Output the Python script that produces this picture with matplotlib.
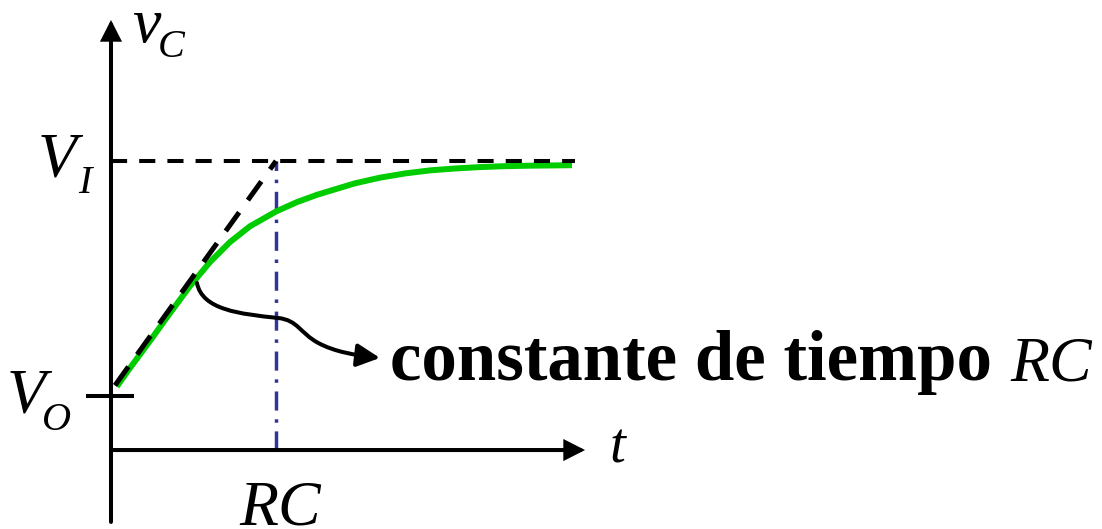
import matplotlib
matplotlib.use("Agg")
import matplotlib.pyplot as plt
from matplotlib.patches import FancyArrowPatch
from matplotlib.path import Path

# Charging curve of the capacitor voltage (time in units of RC,
# voltage normalised so that V_O = 0 and V_I = 1)
t_curve = [0.035, 0.115, 0.236, 0.358, 0.479, 0.600, 0.721, 0.842, 1.000, 1.127,
           1.248, 1.370, 1.479, 1.630, 1.782, 1.933, 2.085, 2.236, 2.388, 2.539, 2.794]
v_curve = [0.040, 0.119, 0.234, 0.353, 0.468, 0.570, 0.655, 0.722, 0.785, 0.825,
           0.856, 0.882, 0.905, 0.929, 0.947, 0.960, 0.968, 0.974, 0.978, 0.980, 0.982]

# Initial tangent to the curve, reaching V_I at t = RC
t_tangent = [0.024, 1.0]
v_tangent = [0.045, 1.0]

# Reference levels
V_O = 0.0
V_I = 1.0
RC = 1.0
t_end_line = 2.81

serif = "Liberation Serif"

fig = plt.figure(figsize=(11.02, 5.29), dpi=100)
ax = fig.add_axes([0, 0, 1, 1])
ax.set_xlim(-0.6727, 6.006)
ax.set_ylim(-0.566, 1.685)
ax.axis("off")

x_axis_v = -0.23
axis_lw = 2.9


def axis_arrow(p0, p1):
    a = FancyArrowPatch(p0, p1, arrowstyle="-|>,head_length=0.55,head_width=0.28",
                        mutation_scale=20, lw=axis_lw, color="black",
                        shrinkA=0, shrinkB=0, joinstyle="miter", zorder=3)
    ax.add_patch(a)


# axes with arrowheads
axis_arrow((0, -0.536), (0, 1.6))
axis_arrow((0, x_axis_v), (2.873, x_axis_v))

# V_O tick
ax.plot([-0.152, 0.139], [V_O, V_O], color="black", lw=axis_lw,
        solid_capstyle="butt", zorder=3)

# V_I dashed level
ax.plot([0, t_end_line], [V_I, V_I], color="black", lw=2.9,
        linestyle=(0, (4, 3)), zorder=4)

# RC marker (dash-dot)
ax.plot([RC, RC], [x_axis_v, V_I], color="#333399", lw=2.5,
        linestyle=(0, (5.5, 2.5, 1, 2.5)), zorder=2)

# the charging curve
ax.plot(t_curve, v_curve, color="#00CC00", lw=4.3, solid_capstyle="butt",
        solid_joinstyle="round", zorder=3)

# tangent at the origin
ax.plot(t_tangent, v_tangent, color="black", lw=3.6, linestyle=(0, (4.6, 3)), zorder=4)

# curved pointer to the label
verts = [(0.521, 0.481), (0.552, 0.366), (0.782, 0.349), (1.012, 0.332),
         (1.133, 0.323), (1.145, 0.268), (1.255, 0.226),
         (1.358, 0.187), (1.479, 0.174), (1.63, 0.162)]
codes = [Path.MOVETO] + [Path.CURVE4] * 9
pointer = FancyArrowPatch(path=Path(verts, codes),
                          arrowstyle="-|>,head_length=0.7,head_width=0.35",
                          mutation_scale=20, lw=2.9, color="black", zorder=5)
ax.add_patch(pointer)

# labels
big = 46
sub = 29
ax.text(0.127, 1.506, "v", fontsize=big, fontfamily=serif, style="italic",
        va="baseline", ha="left")
ax.text(0.285, 1.443, "C", fontsize=sub, fontfamily=serif, style="italic",
        va="baseline", ha="left")
ax.text(-0.445, 0.932, "V", fontsize=big, fontfamily=serif, style="italic",
        va="baseline", ha="left")
ax.text(-0.2, 0.864, "I", fontsize=sub, fontfamily=serif, style="italic",
        va="baseline", ha="left")
ax.text(-0.63, -0.072, "V", fontsize=big, fontfamily=serif, style="italic",
        va="baseline", ha="left")
ax.text(-0.418, -0.145, "O", fontsize=sub, fontfamily=serif, style="italic",
        va="baseline", ha="left")
ax.text(3.02, -0.281, "t", fontsize=41, fontfamily=serif, style="italic",
        va="baseline", ha="left")
ax.text(RC + 0.024, -0.545, "RC", fontsize=46, fontfamily=serif, style="italic",
        va="baseline", ha="center")
ax.text(1.69, 0.068, "constante de tiempo", fontsize=51, fontfamily=serif,
        fontweight="bold", va="baseline", ha="left")
ax.text(5.45, 0.068, "RC", fontsize=46, fontfamily=serif, style="italic",
        va="baseline", ha="left")

fig.savefig("out.png", dpi=100)
